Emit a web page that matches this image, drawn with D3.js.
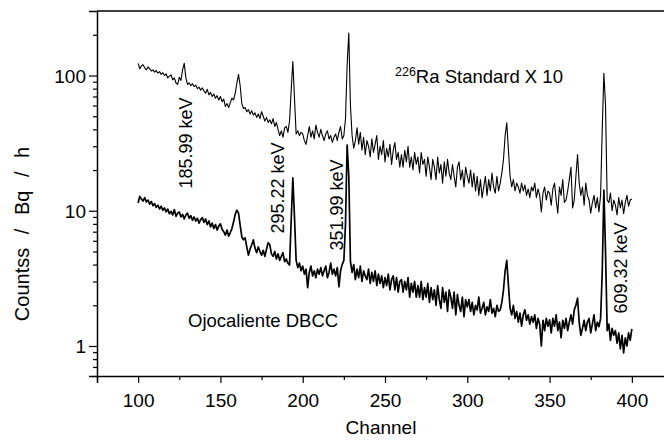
<!DOCTYPE html>
<html>
<head>
<meta charset="utf-8">
<script src="https://cdn.jsdelivr.net/npm/d3@7"></script>
<style>
  body { margin: 0; background: #fff; }
  text { font-family: "Liberation Sans", Arial, sans-serif; fill: #000; }
</style>
</head>
<body>
<div id="chart"></div>
<script>
// Chart size, the frame runs off the right edge like the original.
var width = 664;
var height = 441;
var m = { left: 97, top: 11, right: 673, bottom: 376 };

// Channels 100..400, one value per channel.
var firstChannel = 100;

// 226Ra standard spectrum (already x 10).
var raStandard = [
  123, 112, 118, 120, 114, 110, 116, 112, 108, 110,
  106, 109, 104, 107, 102, 105, 100, 103, 96, 99,
  101, 93, 96, 88, 86, 97, 92, 110, 123, 96,
  86, 88, 84, 87, 83, 85, 80, 82, 78, 81,
  77, 74, 79, 72, 75, 70, 73, 68, 71, 66,
  70, 64, 67, 59, 62, 58, 63, 68, 66, 74,
  88, 102, 84, 62, 57, 58, 54, 56, 52, 55,
  51, 53, 49, 52, 48, 54, 50, 46, 49, 45,
  47, 44, 48, 42, 45, 40, 36, 39, 35, 41,
  42, 38, 46, 78, 127, 68, 37, 39, 36, 38,
  37, 33, 31, 36, 42, 35, 39, 34, 43, 38,
  35, 40, 36, 33, 37, 39, 34, 36, 32, 35,
  37, 33, 38, 42, 34, 36, 48, 120, 206, 60,
  36, 29, 33, 41, 31, 38, 28, 35, 26, 33,
  30, 25, 34, 27, 31, 36, 24, 30, 26, 33,
  23, 29, 25, 31, 22, 28, 32, 24, 27, 21,
  26, 21, 28, 23, 30, 21, 25, 20, 27, 22,
  25, 19, 27, 22, 24, 18, 25, 21, 17, 24,
  21, 17, 25, 19, 22, 16, 23, 18, 24, 19,
  17, 22, 18, 15, 21, 23, 17, 20, 15, 21,
  18, 16, 20, 15, 19, 14, 18, 13, 17, 12.5,
  15, 18, 13, 17, 14, 19, 15, 13.5, 18, 14,
  16, 19, 24, 36, 44.7, 28, 18, 15, 17, 14,
  16, 15, 13.5, 16, 14, 15.5, 13, 14.5, 12.5, 15,
  14, 16, 12.5, 14.5, 13, 9.8, 13.5, 15, 12, 14,
  13.5, 11, 14.5, 16, 12, 9.6, 15, 13, 17, 11.5,
  12, 14, 17, 21, 10.5, 12, 18, 26, 16, 13,
  15, 11, 16, 13, 12, 9.6, 11.5, 13, 10.5, 12.5,
  9.8, 13, 40, 103.7, 60, 12, 11.5, 13.5, 10, 12,
  11, 9.3, 12.5, 10.5, 12, 9.5, 11.5, 13, 10.8, 12,
  12.2
];

// Ojocaliente DBCC sample spectrum.
var ojocaliente = [
  11.4, 12.8, 12.2, 11.8, 12.5, 11.6, 12.0, 11.2, 11.7, 10.9,
  11.3, 10.6, 11.0, 10.3, 10.8, 10.1, 10.5, 9.8, 10.3, 9.5,
  9.9, 9.3, 10.2, 9.1, 9.6, 9.8, 9.0, 9.4, 8.7, 9.3,
  9.6, 8.8, 9.2, 8.5, 9.0, 8.4, 8.8, 8.1, 8.6, 8.9,
  8.2, 8.7, 7.9, 8.4, 7.6, 8.1, 7.4, 7.9, 7.2, 7.7,
  8.0, 7.3, 7.0, 6.6, 7.2, 6.5, 6.9, 7.4, 8.3, 9.4,
  10.1, 9.6, 7.8, 6.4, 6.1, 6.3, 5.4, 4.7, 5.2, 5.6,
  6.1, 5.3, 4.9, 5.4, 5.0, 4.7, 5.1, 4.6, 5.2, 5.8,
  5.6, 4.8, 4.6, 5.0, 4.4, 4.8, 4.3, 4.6, 4.9, 4.2,
  4.4, 4.1, 3.97, 8.5, 17.5, 9.0, 4.3, 3.8, 4.1, 3.6,
  3.9, 3.4, 3.7, 2.7, 3.5, 3.9, 3.3, 3.6, 3.2, 3.7,
  3.4, 3.8, 3.3, 3.6, 3.9, 3.2, 3.5, 4.1, 3.4, 3.7,
  3.3, 3.8, 2.74, 3.6, 4.0, 4.3, 8.0, 30.6, 18, 4.2,
  3.5, 4.0, 3.1, 3.7, 3.2, 3.9, 3.0, 3.6, 3.3, 3.1,
  3.7, 2.9, 3.5, 3.0, 3.6, 2.8, 3.4, 2.9, 3.3, 2.7,
  3.2, 2.8, 3.4, 2.6, 3.1, 3.3, 2.6, 3.2, 2.5, 3.0,
  3.1, 2.5, 3.0, 2.6, 3.2, 2.3, 2.9, 2.5, 3.0, 2.3,
  2.8, 2.3, 3.0, 2.2, 2.7, 2.3, 2.9, 2.1, 2.7, 2.2,
  2.6, 2.0, 2.8, 2.2, 1.9, 2.7, 2.1, 2.5, 1.8, 2.6,
  2.3, 1.9, 2.5, 1.7, 2.4, 2.0, 1.8, 2.3, 1.65, 2.2,
  1.95, 2.2, 1.8, 2.1, 1.7, 2.0, 1.85, 2.3, 1.75, 1.9,
  2.1, 1.7, 1.95, 1.8, 2.2, 1.75, 1.9, 1.65, 2.0, 1.8,
  1.85, 2.1, 2.6, 3.6, 4.3, 2.8, 1.9, 1.7, 2.0, 1.6,
  1.8, 1.5, 1.75, 1.4, 1.7, 1.85, 1.55, 1.7, 1.45, 1.65,
  1.5, 1.7, 1.35, 1.6, 1.45, 1.0, 1.55, 1.3, 1.6, 1.4,
  1.56, 1.25, 1.6, 1.4, 1.7, 1.3, 1.5, 1.15, 1.55, 1.35,
  1.6, 1.3, 1.5, 1.7, 1.45, 1.85, 2.0, 2.26, 1.5, 1.2,
  1.35, 1.55, 1.3, 1.5, 1.6, 1.25, 1.45, 1.7, 1.3, 1.5,
  1.39, 1.6, 3.5, 14.2, 5.0, 1.3, 1.45, 1.1, 1.35, 1.2,
  1.3, 1.05, 1.25, 0.95, 1.2, 0.89, 1.15, 1.0, 1.25, 1.1,
  1.34
];

// Axis ticks.
var xMajor = [100, 150, 200, 250, 300, 350, 400];
var xMinor = [75, 125, 175, 225, 275, 325, 375, 425];
var yMajor = [1, 10, 100];
var yMinor = [0.6, 0.7, 0.8, 0.9, 2, 3, 4, 5, 6, 7, 8, 9,
              20, 30, 40, 50, 60, 70, 80, 90, 200];

// Peak labels: channel position and text.
var peakChannels = [128.5, 184.5, 220.5, 393];
var peakLabels = ["185.99 keV", "295.22 keV", "351.99 keV", "609.32 keV"];
var peakLabelY = [143, 188, 205, 268];

var x = d3.scaleLinear().domain([75, 425]).range([m.left, m.right]);
var y = d3.scaleLog().domain([0.6, 300]).range([m.bottom, m.top]);

var svg = d3.select("#chart").append("svg")
    .attr("width", width)
    .attr("height", height);

var line = d3.line()
    .x(function(d, i) { return x(firstChannel + i); })
    .y(function(d) { return y(d); });

svg.append("path")
    .datum(raStandard)
    .attr("d", line)
    .attr("fill", "none")
    .attr("stroke", "#000")
    .attr("stroke-width", 1.1)
    .attr("stroke-linejoin", "round");

svg.append("path")
    .datum(ojocaliente)
    .attr("d", line)
    .attr("fill", "none")
    .attr("stroke", "#000")
    .attr("stroke-width", 1.7)
    .attr("stroke-linejoin", "round");

// top frame line
svg.append("line")
    .attr("x1", m.left).attr("x2", m.right)
    .attr("y1", m.top).attr("y2", m.top)
    .attr("stroke", "#000").attr("stroke-width", 1.5);

// x axis
var gx = svg.append("g").attr("transform", "translate(0," + m.bottom + ")");
gx.call(d3.axisBottom(x).tickValues(xMajor).tickSize(7).tickPadding(11)
    .tickFormat(d3.format("d")));
gx.append("g").call(d3.axisBottom(x).tickValues(xMinor).tickSize(4).tickFormat(""))
  .select(".domain").remove();

// y axis
var gy = svg.append("g").attr("transform", "translate(" + m.left + ",0)");
gy.call(d3.axisLeft(y).tickValues(yMajor).tickSize(8).tickPadding(3)
    .tickFormat(d3.format("d")));
gy.append("g").call(d3.axisLeft(y).tickValues(yMinor).tickSize(4).tickFormat(""))
  .select(".domain").remove();

svg.selectAll(".domain").attr("stroke-width", 1.5);
svg.selectAll(".tick line").attr("stroke-width", 1.2);
svg.selectAll(".tick text")
    .style("font-family", "'Liberation Sans', Arial, sans-serif")
    .style("font-size", "19px");
gy.selectAll(".tick text").attr("dy", "0.35em");

// axis titles
svg.append("text")
    .attr("x", (m.left + m.right) / 2 - 4)
    .attr("y", 434)
    .attr("text-anchor", "middle")
    .style("font-size", "19px")
    .text("Channel");

svg.append("text")
    .attr("transform", "translate(29,234) rotate(-90)")
    .attr("text-anchor", "middle")
    .style("font-size", "20px")
    .style("word-spacing", "8px")
    .text("Countss / Bq / h");

// peak labels
svg.selectAll(".peak")
    .data(peakLabels)
    .enter().append("text")
    .attr("class", "peak")
    .attr("transform", function(d, i) {
      return "translate(" + (x(peakChannels[i]) + 6.5) + "," + peakLabelY[i] + ") rotate(-90)";
    })
    .attr("text-anchor", "middle")
    .style("font-size", "18px")
    .text(function(d) { return d; });

// series labels
var ra = svg.append("text")
    .attr("x", 395)
    .attr("y", 83)
    .style("font-size", "18.5px");
ra.append("tspan").attr("dy", -7).style("font-size", "12.5px").text("226");
ra.append("tspan").attr("dy", 7).text("Ra Standard X 10");

svg.append("text")
    .attr("x", 188)
    .attr("y", 327)
    .style("font-size", "18.5px")
    .text("Ojocaliente DBCC");
</script>
</body>
</html>
